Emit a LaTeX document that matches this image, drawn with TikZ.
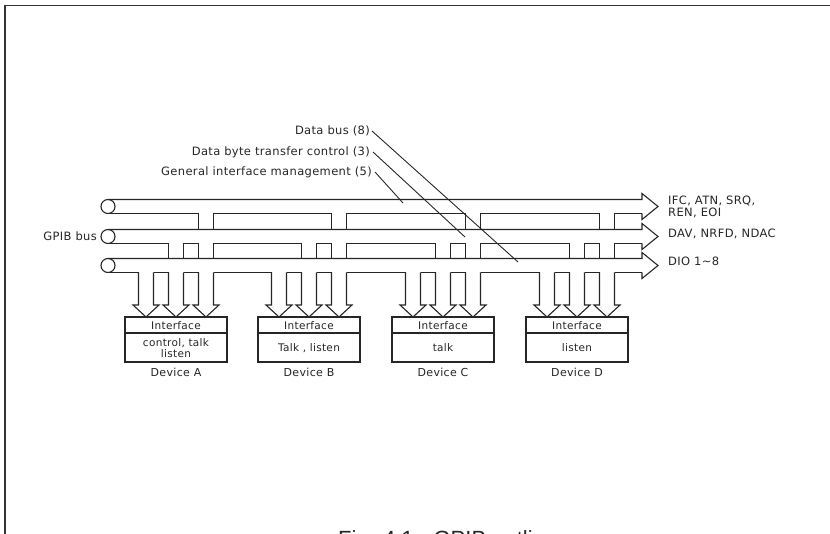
\documentclass[tikz,border=0pt]{standalone}
\usepackage{fontspec}
\setmainfont{DejaVu Sans}[LetterSpace=3]
\newfontfamily\capfont{Liberation Sans}
\begin{document}
\begin{tikzpicture}[x=1pt,y=-1pt,
  ln/.style={draw=black!85, line width=1.1pt, line join=miter},
  lbl/.style={inner sep=0pt, font=\fontsize{11.5}{13}\selectfont, text=black!85},
  boxtxt/.style={inner sep=0pt, font=\fontsize{10.5}{11.5}\selectfont, text=black!85, align=center},
  devlbl/.style={inner sep=0pt, font=\fontsize{11}{13}\selectfont, text=black!85},
  frameline/.style={draw=black!80, line width=1.5pt}]
\clip (0,0) rectangle (830,534);
\draw[frameline] (5,534) -- (5,5.5) -- (830,5.5);

% buses: end circles, top lines and right arrow heads
\foreach \yc in {206.5,236.5,265.5} {
  \draw[ln] (108,\yc) circle[radius=7];
  \draw[ln] (108,\yc-7) -- (642,\yc-7) -- (642,\yc-13) -- (658,\yc) -- (642,\yc+13) -- (642,\yc+7);
}
% bottom lines with openings
\draw[ln] (108,213.5) foreach \g in {206,339,473,607} { -- (\g-7.5,213.5) ++(15,0) } -- (642,213.5);
\draw[ln] (108,243.5) foreach \g in {176,206,309,339,443,473,577,607} { -- (\g-7.5,243.5) ++(15,0) } -- (642,243.5);
\draw[ln] (108,272.5) foreach \g in {146,176,206,279,309,339,413,443,473,547,577,607} { -- (\g-7.5,272.5) ++(15,0) } -- (642,272.5);

% stems between buses
\foreach \s in {206,339,473,607} {
  \foreach \dx in {-7.5,7.5} { \draw[ln] (\s+\dx,213.5) -- (\s+\dx,229.5); }
}
\foreach \s in {176,206,309,339,443,473,577,607} {
  \foreach \dx in {-7.5,7.5} { \draw[ln] (\s+\dx,243.5) -- (\s+\dx,258.5); }
}
% stems down to the devices with arrow heads
\foreach \s in {146,176,206,279,309,339,413,443,473,547,577,607} {
  \draw[ln] (\s-7.5,272.5) -- (\s-7.5,305) -- (\s-13,305) -- (\s,317) -- (\s+13,305) -- (\s+7.5,305) -- (\s+7.5,272.5);
}

% devices
\foreach \c/\n/\t in {176/A/{control, talk\\listen}, 309/B/{Talk , listen}, 443/C/{talk}, 577/D/{listen}} {
  \draw[ln] (\c-51,317) rectangle (\c+51,362);
  \draw[ln] (\c-51,333) -- (\c+51,333);
  \node[boxtxt] (if\n) at (\c,325.5) {Interface};
  \node[boxtxt] (fn\n) at (\c,348) {\t};
  \node[devlbl, anchor=base] (dev\n) at (\c,377) {Device \n};
}

% labels
\node[lbl, anchor=base east] (gpib) at (97,241) {GPIB bus};
\node[lbl, anchor=base west] (ifc) at (668,205) {IFC, ATN, SRQ,};
\node[lbl, anchor=base west] (ren) at (668,217) {REN, EOI};
\node[lbl, anchor=base west] (dav) at (668,237.5) {DAV, NRFD, NDAC};
\node[lbl, anchor=base west] (dio) at (668,265.5) {DIO 1\char"007E 8};

\node[lbl, anchor=base east] (tdb) at (370,135) {Data bus (8)};
\node[lbl, anchor=base east] (tdt) at (370,156) {Data byte transfer control (3)};
\node[lbl, anchor=base east] (tgi) at (372,176) {General interface management (5)};
\coordinate (sdb) at (372,131);
\coordinate (edb) at (518,262);
\coordinate (sdt) at (373,152);
\coordinate (edt) at (465,237);
\coordinate (sgi) at (375,172);
\coordinate (egi) at (403,203);
\draw[ln, line width=0.9pt] (sdb) -- (edb);
\draw[ln, line width=0.9pt] (sdt) -- (edt);
\draw[ln, line width=0.9pt] (sgi) -- (egi);

% caption (cut by the lower edge, as in the reference)
\node[inner sep=0pt, anchor=base west, font=\capfont\fontsize{22}{24}\selectfont, text=black!85] (cap) at (338,546.5) {Fig. 4.1\hspace{20pt}GPIB outline};
\end{tikzpicture}
\end{document}
